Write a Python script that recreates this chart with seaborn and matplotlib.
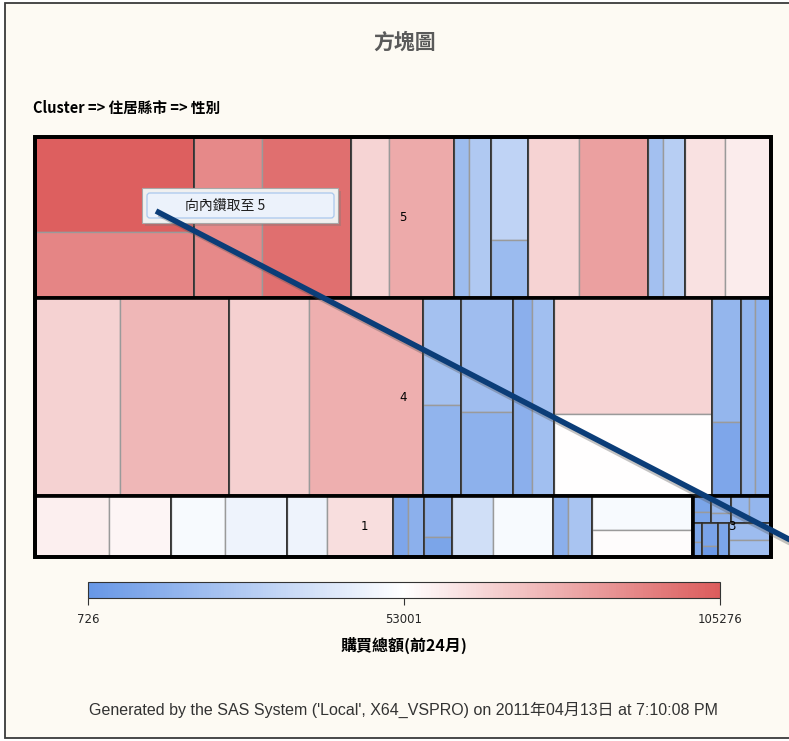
import matplotlib
matplotlib.use("Agg")
import matplotlib.pyplot as plt
from matplotlib.patches import Rectangle, FancyBboxPatch
from matplotlib.colors import Normalize
from matplotlib.colorbar import ColorbarBase
import seaborn as sns

sns.set_style("white")
plt.rcParams['font.family'] = ['Noto Sans CJK TC', 'DejaVu Sans']

# customers per county / gender (area of each cell)
n5 = [[1510, 1049], [1095, 1433], [612, 1047], [242, 354], [381, 215], [821, 1111], [242, 354], [644, 741]]
n4 = [[1683, 2158], [1584, 2257], [407, 346], [593, 437], [376, 436], [1833, 1296], [360, 215], [277, 317]]
n1 = [[451, 378], [329, 378], [244, 403], [92, 98], [115, 56], [250, 366], [92, 146], [343, 273]]
n3 = [[29, 20], [34, 20], [49, 59], [17, 14], [37, 18], [37], [71, 71]]

# 購買總額(前24月) per cell
amt5 = [[104200, 92200], [90600, 99000], [66500, 80300], [19500, 26000], [31200, 19000], [67100, 83400], [21500, 28100], [62600, 59100]]
amt4 = [[67700, 76100], [67900, 78700], [21600, 15400], [20100, 14200], [13200, 20800], [66500, 53300], [16300, 8700], [15400, 14200]]
amt1 = [[58100, 56200], [50200, 47100], [47100, 63600], [8700, 13500], [13200, 8000], [36700, 50200], [13200, 23200], [50200, 54100]]
amt3 = [[8000, 7700], [16600, 13500], [16900, 16600], [8300, 8300], [7000, 2000], [8000], [19500, 20500]]

amt_min, amt_mid, amt_max = 726, 53001, 105276

# layout of the treemap (which cells are stacked, rows of counties / clusters)
stack5 = [1, 0, 0, 0, 1, 0, 0, 0]
stack4 = [0, 0, 1, 1, 0, 1, 1, 0]
stack1 = [0, 0, 0, 0, 1, 0, 0, 1]
stack3 = [1, 1, 0, 1, 1, 0, 1]
county_rows = {'5': [8], '4': [8], '1': [8], '3': [3, 4]}
cluster_rows = [['5'], ['4'], ['1', '3']]

data = {'5': (n5, amt5, stack5), '4': (n4, amt4, stack4),
        '1': (n1, amt1, stack1), '3': (n3, amt3, stack3)}

cmap = sns.blend_palette(['#6797e6', '#ffffff', '#dc5c5c'], as_cmap=True)
norm = Normalize(amt_min, amt_max)


def split(x, y, w, h, vals, horizontal):
    tot = float(sum(vals))
    out = []
    for v in vals:
        if horizontal:
            ww = w * v / tot
            out.append((x, y, ww, h))
            x += ww
        else:
            hh = h * v / tot
            out.append((x, y, w, hh))
            y += hh
    return out


fig = plt.figure(figsize=(7.89, 7.41), dpi=100, facecolor='white')
ax = fig.add_axes([0, 0, 1, 1])
ax.set_xlim(0, 789)
ax.set_ylim(741, 0)
ax.axis('off')

# page background and frame
ax.add_patch(Rectangle((5, 3), 800, 735, facecolor='#fdfaf3', edgecolor='#3a3a3a', lw=1.3))

ax.text(405, 42, '方塊圖', ha='center', va='center', fontsize=15, fontweight='bold',
        color='#5a5a5a')
ax.text(33, 108, 'Cluster => 住居縣市 => 性別', ha='left', va='center',
        fontsize=10.5, fontweight='bold', color='black')

# treemap
X0, Y0, W, H = 35, 137, 736, 420
tot_all = sum(sum(sum(c) for c in data[k][0]) for k in data)
y = Y0
for row in cluster_rows:
    row_tot = [sum(sum(c) for c in data[k][0]) for k in row]
    h = H * sum(row_tot) / tot_all
    for k, (cx, cy, cw, ch) in zip(row, split(X0, y, W, h, row_tot, True)):
        n, amt, stk = data[k]
        cty_tot = [sum(c) for c in n]
        i0 = 0
        rtots = []
        for cnt in county_rows[k]:
            rtots.append(sum(cty_tot[i0:i0 + cnt]))
            i0 += cnt
        i0 = 0
        for cnt, (rx, ry, rw, rh) in zip(county_rows[k], split(cx, cy, cw, ch, rtots, False)):
            idx = range(i0, i0 + cnt)
            rects = split(rx, ry, rw, rh, [cty_tot[i] for i in idx], True)
            for i, (qx, qy, qw, qh) in zip(idx, rects):
                for (gx, gy, gw, gh), v in zip(split(qx, qy, qw, qh, n[i], not stk[i]), amt[i]):
                    ax.add_patch(Rectangle((gx, gy), gw, gh, facecolor=cmap(norm(v)),
                                           edgecolor='#9a9a9a', lw=1.0))
                ax.add_patch(Rectangle((qx, qy), qw, qh, facecolor='none',
                                       edgecolor='#2a2a2a', lw=1.1))
            i0 += cnt
        ax.add_patch(Rectangle((cx, cy), cw, ch, facecolor='none', edgecolor='black', lw=2.6))
        ax.text(cx + cw / 2, cy + ch / 2, k, ha='center', va='center', fontsize=8.5,
                family='DejaVu Sans', color='black')
    y += h
ax.add_patch(Rectangle((X0, Y0), W, H, facecolor='none', edgecolor='black', lw=2.8))

# drill-down popup
ax.add_patch(Rectangle((145, 191), 196, 35, facecolor='#7a7a7a', alpha=0.35, lw=0))
ax.add_patch(Rectangle((142, 188), 196, 35, facecolor='#f0f0f0', edgecolor='#a8a8a8', lw=0.8))
ax.add_patch(FancyBboxPatch((147, 193), 187, 25, boxstyle='round,pad=0,rounding_size=3',
                            facecolor='#ecf2fb', edgecolor='#a9c8ee', lw=0.9))
ax.text(185, 205.5, '向內鑽取至 5', ha='left', va='center', fontsize=10, color='#1e1e1e')

# pointer line
ax.plot([159, 800], [214, 548], color='#555555', lw=4, alpha=0.35, solid_capstyle='butt')
ax.plot([156, 800], [211, 545], color='#0b3d78', lw=4, solid_capstyle='butt')

# colour scale
cax = fig.add_axes([88 / 789, 1 - 598 / 741, 632 / 789, 16 / 741])
cb = ColorbarBase(cax, cmap=cmap, norm=norm, orientation='horizontal',
                  ticks=[amt_min, amt_mid, amt_max])
cb.outline.set_edgecolor('#333333')
cb.outline.set_linewidth(0.8)
cax.tick_params(axis='x', direction='out', length=5, width=0.8, color='#333333',
                labelsize=8.5, pad=6)
for t in cax.get_xticklabels():
    t.set_family('DejaVu Sans')
ax.text(404, 645, '購買總額(前24月)', ha='center', va='center', fontsize=11.5,
        fontweight='bold', color='black')

ax.text(404, 710, "Generated by the SAS System ('Local', X64_VSPRO) on 2011年04月13日 at 7:10:08 PM",
        ha='center', va='center', fontsize=11.5, color='#333333',
        family=['Liberation Sans', 'Noto Sans CJK TC'])

fig.savefig('out.png', dpi=100, facecolor=fig.get_facecolor())
